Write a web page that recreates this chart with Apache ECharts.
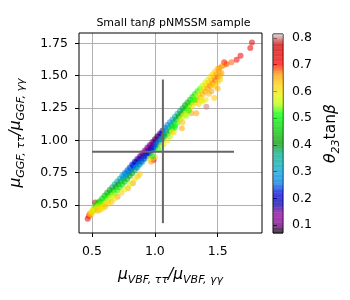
<!DOCTYPE html>
<html><head><meta charset="utf-8">
<script src="https://cdn.jsdelivr.net/npm/echarts@6/dist/echarts.min.js"></script>
<style>html,body{margin:0;padding:0;background:#fff}#c{width:350px;height:300px}</style>
</head><body><div id="c"></div>
<script>
// ---- data: [x = muVBF ratio, y = muGGF ratio, theta23*tanBeta]
const points = [
[0.465,0.395,0.73],[0.475,0.415,0.70],[0.48,0.432,0.67],[0.49,0.425,0.64],[0.495,0.448,0.62],[0.50,0.438,0.60],
[0.505,0.462,0.58],[0.51,0.452,0.62],[0.515,0.478,0.55],[0.52,0.468,0.60],[0.525,0.52,0.78],[0.53,0.495,0.50],
[0.535,0.480,0.58],[0.54,0.508,0.48],[0.545,0.490,0.60],[0.55,0.518,0.47],[0.555,0.500,0.56],[0.545,0.455,0.65],[0.56,0.475,0.63],
[0.56,0.530,0.47],[0.57,0.508,0.54],[0.56,0.462,0.62],
[0.58,0.551,0.45],[0.59,0.530,0.52],[0.58,0.484,0.61],
[0.60,0.573,0.44],[0.61,0.552,0.51],[0.60,0.506,0.60],
[0.62,0.595,0.42],[0.63,0.574,0.49],[0.62,0.528,0.59],
[0.64,0.617,0.40],[0.65,0.595,0.47],[0.64,0.550,0.58],
[0.66,0.638,0.38],[0.67,0.617,0.45],[0.66,0.571,0.56],
[0.68,0.660,0.35],[0.69,0.639,0.42],[0.68,0.593,0.54],
[0.70,0.682,0.33],[0.71,0.661,0.40],[0.70,0.615,0.52],
[0.72,0.704,0.31],[0.73,0.683,0.38],[0.72,0.637,0.50],
[0.74,0.726,0.29],[0.75,0.704,0.36],[0.74,0.659,0.48],
[0.76,0.747,0.27],[0.77,0.726,0.34],[0.76,0.680,0.46],
[0.78,0.769,0.25],[0.79,0.748,0.32],[0.78,0.702,0.44],
[0.80,0.791,0.24],[0.81,0.770,0.31],[0.80,0.724,0.42],
[0.82,0.813,0.22],[0.83,0.792,0.29],[0.82,0.746,0.40],
[0.84,0.835,0.19],[0.85,0.813,0.26],[0.84,0.768,0.38],
[0.86,0.856,0.17],[0.87,0.835,0.24],[0.86,0.789,0.36],
[0.88,0.878,0.15],[0.89,0.857,0.22],[0.88,0.811,0.34],
[0.90,0.900,0.14],[0.91,0.879,0.21],[0.90,0.833,0.32],
[0.92,0.922,0.13],[0.93,0.901,0.20],[0.92,0.855,0.31],
[0.94,0.944,0.12],[0.95,0.922,0.19],[0.94,0.877,0.30],
[0.96,0.965,0.11],[0.97,0.944,0.18],[0.96,0.898,0.30],
[0.98,0.987,0.10],[0.99,0.966,0.17],[0.98,0.920,0.30],
[1.00,1.009,0.09],[1.01,0.988,0.18],[1.00,0.942,0.32],
[1.02,1.031,0.07],[1.03,1.010,0.20],[1.02,0.964,0.34],
[1.04,1.053,0.12],[1.05,1.031,0.24],[1.04,0.986,0.37],
[1.06,1.074,0.18],[1.07,1.053,0.28],[1.06,1.007,0.40],
[1.08,1.096,0.24],[1.09,1.075,0.31],[1.08,1.029,0.43],
[1.10,1.118,0.27],[1.11,1.097,0.33],[1.10,1.051,0.45],
[1.12,1.140,0.29],[1.13,1.119,0.35],[1.12,1.073,0.47],
[1.14,1.162,0.31],[1.15,1.140,0.37],[1.14,1.095,0.49],
[1.16,1.183,0.33],[1.17,1.162,0.39],[1.16,1.116,0.51],
[1.18,1.205,0.35],[1.19,1.184,0.41],[1.18,1.138,0.53],
[1.20,1.227,0.36],[1.21,1.206,0.43],[1.20,1.160,0.55],
[1.22,1.249,0.38],[1.23,1.228,0.45],[1.22,1.182,0.56],
[1.24,1.271,0.41],[1.25,1.249,0.47],[1.24,1.204,0.58],
[1.26,1.292,0.43],[1.27,1.271,0.49],[1.26,1.225,0.59],
[1.28,1.314,0.45],[1.29,1.293,0.51],[1.28,1.247,0.60],
[1.30,1.336,0.47],[1.31,1.315,0.53],[1.30,1.269,0.61],
[1.32,1.358,0.49],[1.33,1.337,0.55],[1.32,1.291,0.62],
[1.34,1.380,0.51],[1.35,1.358,0.57],[1.34,1.313,0.63],
[1.36,1.401,0.53],[1.37,1.380,0.58],[1.36,1.334,0.64],
[1.38,1.423,0.56],[1.39,1.402,0.60],[1.38,1.356,0.65],
[1.40,1.445,0.58],[1.41,1.424,0.61],[1.40,1.378,0.66],
[1.42,1.467,0.60],[1.43,1.446,0.62],[1.42,1.400,0.66],
[1.44,1.489,0.61],[1.45,1.467,0.63],[1.44,1.422,0.67],
[1.46,1.510,0.62],[1.47,1.489,0.64],[1.46,1.443,0.67],
[1.48,1.532,0.63],[1.49,1.511,0.65],[1.48,1.465,0.68],
[1.50,1.554,0.64],[1.51,1.533,0.66],[1.50,1.487,0.68],
[0.75,0.718,0.30],[0.77,0.740,0.28],[0.79,0.762,0.26],[0.81,0.784,0.25],[0.83,0.806,0.22],[0.85,0.828,0.19],
[0.87,0.850,0.17],[0.89,0.872,0.16],[0.91,0.894,0.15],[0.93,0.916,0.14],[0.95,0.938,0.13],[0.97,0.960,0.12],
[0.99,0.982,0.11],[1.01,1.004,0.10],[1.03,1.027,0.14],[1.05,1.050,0.20],
[0.85,0.793,0.29],[0.87,0.815,0.27],[0.89,0.837,0.25],[0.91,0.859,0.24],[0.93,0.881,0.23],[0.95,0.903,0.22],
[0.97,0.925,0.22],[0.99,0.947,0.23],[1.01,0.969,0.25],[1.03,0.991,0.28],[1.05,1.013,0.32],[1.07,1.035,0.36],
[0.604,0.487,0.65],[0.656,0.525,0.64],[0.703,0.564,0.66],[0.734,0.595,0.63],[0.786,0.629,0.65],[0.825,0.668,0.66],[0.864,0.72,0.64],
[0.58,0.47,0.60],[0.63,0.51,0.62],[0.68,0.55,0.60],[0.76,0.62,0.58],[0.80,0.66,0.57],[0.84,0.70,0.60],[0.88,0.74,0.62],
[0.99,0.848,0.72],[0.97,0.835,0.66],[1.00,0.87,0.63],[0.96,0.86,0.60],[0.98,0.88,0.50],
[1.03,0.93,0.52],[1.05,0.96,0.55],[1.07,0.97,0.58],[1.10,1.00,0.60],[1.12,1.03,0.55],[1.137,1.067,0.58],[1.15,1.06,0.62],[1.16,1.10,0.50],
[1.215,1.093,0.65],[1.29,1.21,0.66],[1.318,1.311,0.52],[1.37,1.311,0.60],[1.41,1.26,0.80],[1.33,1.21,0.66],[1.22,1.14,0.64],
[1.25,1.19,0.55],[1.27,1.23,0.52],[1.35,1.28,0.62],[1.38,1.30,0.58],[1.43,1.36,0.64],[1.45,1.38,0.66],[1.474,1.327,0.63],
[1.404,1.314,0.60],[1.46,1.43,0.64],[1.48,1.42,0.62],[1.50,1.45,0.63],
[1.50,1.40,0.65],[1.52,1.47,0.62],[1.52,1.50,0.64],[1.53,1.52,0.66],
[1.513,1.559,0.66],[1.534,1.572,0.67],[1.552,1.603,0.70],[1.55,1.58,0.65],[1.57,1.59,0.69],[1.61,1.603,0.68],
[1.651,1.623,0.72],[1.682,1.654,0.72],[1.76,1.713,0.73],[1.773,1.757,0.74]
];
// error-bar cross: centre and ranges
const errCenter = [1.064, 0.912];
const errXRange = [0.50, 1.63];
const errYRange = [0.36, 1.47];
// tick labels
const xTicks = [0.5, 1.0, 1.5];
const yTicks = [0.50, 0.75, 1.00, 1.25, 1.50, 1.75];
const cbTicks = [0.1, 0.2, 0.3, 0.4, 0.5, 0.6, 0.7, 0.8];
const cbRange = [0.07, 0.815];
// nipy_spectral colormap stops
const cmapStops = ['#000000','#770088','#880099','#0000aa','#0000dd','#0077dd','#0099dd','#00aaaa','#00aa88','#009900',
'#00bb00','#00dd00','#00ff00','#bbff00','#eeee00','#ffcc00','#ff9900','#ff0000','#dd0000','#cc0000','#cccccc'];

function hex(c){return [parseInt(c.substr(1,2),16),parseInt(c.substr(3,2),16),parseInt(c.substr(5,2),16)];}
function cmap(v){
  let t=(v-cbRange[0])/(cbRange[1]-cbRange[0]); t=Math.max(0,Math.min(1,t));
  const n=cmapStops.length-1, f=t*n, i=Math.min(n-1,Math.floor(f)), r=f-i;
  const a=hex(cmapStops[i]), b=hex(cmapStops[i+1]);
  return 'rgb('+a.map((x,k)=>Math.round(x+(b[k]-x)*r)).join(',')+')';
}
const NB=120, bands=[];
for(let i=0;i<NB;i++){const lo=cbRange[0]+(cbRange[1]-cbRange[0])*i/NB, hi=cbRange[0]+(cbRange[1]-cbRange[0])*(i+1)/NB; bands.push([lo,hi,(lo+hi)/2]);}

const F='DejaVu Sans';
const chart=echarts.init(document.getElementById('c'),null,{renderer:'canvas'});
const subRich={
  m:{fontFamily:F,fontStyle:'italic',fontSize:15.5,lineHeight:22,verticalAlign:'middle',color:'#000'},
  s:{fontFamily:F,fontStyle:'italic',fontSize:11,lineHeight:12,verticalAlign:'bottom',color:'#000'},
  n:{fontFamily:F,fontSize:15.5,lineHeight:22,verticalAlign:'middle',color:'#000'}
};
chart.setOption({
  animation:false,
  backgroundColor:'#fff',
  title:{text:'Small tan{b|β} pNMSSM sample',left:168.5,top:13,textAlign:'center',
    textStyle:{fontFamily:F,fontSize:11,fontWeight:'normal',color:'#000',rich:{b:{fontFamily:F,fontStyle:'italic',fontSize:11,color:'#000'}}}},
  grid:[
    {left:75,right:88,top:33,bottom:67,show:true,borderColor:'#000',borderWidth:1,backgroundColor:'transparent',z:5},
    {left:273,width:10,top:34,height:199,show:true,borderColor:'#000',borderWidth:1,backgroundColor:'transparent'}
  ],
  xAxis:[
    {type:'value',gridIndex:0,min:0.396,max:1.853,
     axisLine:{show:false},
     axisTick:{show:true,length:4,lineStyle:{color:'#000'},customValues:xTicks},
     axisLabel:{fontFamily:F,fontSize:12.5,color:'#000',margin:12,customValues:xTicks,formatter:v=>v.toFixed(1)},
     splitLine:{show:true,lineStyle:{color:'#b0b0b0',width:1}},
     name:'{m|μ}{s|VBF, ττ}{m|/μ}{s|VBF, γγ}',nameLocation:'middle',nameGap:31,
     nameTextStyle:{rich:subRich}},
    {type:'value',gridIndex:1,min:0,max:1,show:false}
  ],
  yAxis:[
    {type:'value',gridIndex:0,min:0.284,max:1.8296,
     axisLine:{show:false},
     axisTick:{show:true,length:4,lineStyle:{color:'#000'},customValues:yTicks},
     axisLabel:{fontFamily:F,fontSize:12.5,color:'#000',margin:11,customValues:yTicks,formatter:v=>v.toFixed(2)},
     splitLine:{show:true,lineStyle:{color:'#b0b0b0',width:1}},
     name:'{m|μ}{s|GGF, ττ}{m|/μ}{s|GGF, γγ}',nameLocation:'middle',nameGap:52,nameRotate:90,
     nameTextStyle:{rich:subRich}},
    {type:'value',gridIndex:1,min:cbRange[0],max:cbRange[1],position:'right',
     axisLine:{show:false},
     axisTick:{show:true,length:4,lineStyle:{color:'#000'},customValues:cbTicks},
     axisLabel:{fontFamily:F,fontSize:12.5,color:'#000',margin:9,customValues:cbTicks,formatter:v=>v.toFixed(1)},
     splitLine:{show:false},
     name:'{m|θ}{s|23}{n|tan}{m|β}',nameLocation:'middle',nameGap:37,nameRotate:90,
     nameTextStyle:{rich:subRich}}
  ],
  visualMap:{type:'continuous',show:false,min:cbRange[0],max:cbRange[1],dimension:2,seriesIndex:0,inRange:{color:cmapStops}},
  series:[
    {type:'scatter',xAxisIndex:0,yAxisIndex:0,data:points,symbolSize:6,itemStyle:{opacity:0.55},z:2},
    {type:'line',xAxisIndex:0,yAxisIndex:0,data:[[errXRange[0],errCenter[1]],[errXRange[1],errCenter[1]]],
     symbol:'none',lineStyle:{color:'#666',width:2},z:3},
    {type:'line',xAxisIndex:0,yAxisIndex:0,data:[[errCenter[0],errYRange[0]],[errCenter[0],errYRange[1]]],
     symbol:'none',lineStyle:{color:'#666',width:2},z:3},
    {type:'custom',xAxisIndex:1,yAxisIndex:1,data:bands,
     renderItem:function(params,api){
       const p0=api.coord([0,api.value(1)]), p1=api.coord([1,api.value(0)]);
       return {type:'rect',shape:{x:p0[0],y:p0[1],width:p1[0]-p0[0],height:p1[1]-p0[1]+0.4},
         style:{fill:cmap(api.value(2)),opacity:0.7}};
     }}
  ]
});
</script></body></html>
